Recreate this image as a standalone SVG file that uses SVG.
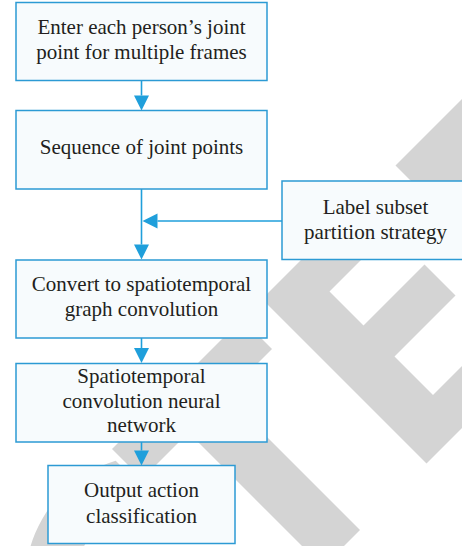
<svg xmlns="http://www.w3.org/2000/svg" width="462" height="546" viewBox="0 0 462 546">
<style>
.box{fill:#f7fbfd;stroke:#2c9ad4;stroke-width:1.5}
.lbl{font-family:'Liberation Serif','DejaVu Serif','Noto Serif','Times New Roman',Times,serif;font-size:21px;fill:#231f20;text-anchor:middle}
.con{stroke:#1f9fdb;stroke-width:1.6;fill:none}
.wm{fill:#d4d4d4}
</style>
<defs>
<marker id="ah" markerUnits="userSpaceOnUse" markerWidth="16" markerHeight="16" refX="0" refY="7.5" orient="auto" overflow="visible">
<path d="M0,0 L15,7.5 L0,15 Z" fill="#1f9fdb"/>
</marker>
</defs>
<rect width="462" height="546" fill="#ffffff"/>
<g id="watermark" class="wm" transform="matrix(0.5,-0.5,0.5,0.5,0,0)">
<path d="M-345,576.4 A175,170 0 1 0 -345,873.6 L-345,777.7 A100,100 0 1 1 -345,672.3 Z"/>
<path d="M-337,561 H-77 V621 H-170 V890 H-244 V621 H-337 Z"/>
<path d="M-37,561 H175 V621 H38 V689 H160 V751 H38 V828 H175 V890 H-37 Z"/>
<path fill-rule="evenodd" d="M230,561 H370 C470,561 520,640 520,725 C520,815 470,890 370,890 H230 Z M305,621 H360 C420,621 445,670 445,725 C445,780 420,828 360,828 H305 Z"/>
</g>
<g id="connectors">
<line class="con" x1="141.5" y1="80.5" x2="141.5" y2="95.5" marker-end="url(#ah)"/>
<line class="con" x1="141.5" y1="189" x2="141.5" y2="244.5" marker-end="url(#ah)"/>
<line class="con" x1="282" y1="221" x2="157.5" y2="221" marker-end="url(#ah)"/>
<line class="con" x1="141.5" y1="338" x2="141.5" y2="348" marker-end="url(#ah)"/>
<line class="con" x1="141.5" y1="442" x2="141.5" y2="450.5" marker-end="url(#ah)"/>
</g>
<g id="n1">
<rect class="box" x="16" y="2.5" width="251" height="78"/>
<text class="lbl" x="141.5" y="34">Enter each person’s joint</text>
<text class="lbl" x="141.5" y="58.5">point for multiple frames</text>
</g>
<g id="n2">
<rect class="box" x="16" y="110.5" width="251" height="78.5"/>
<text class="lbl" x="141.5" y="154">Sequence of joint points</text>
</g>
<g id="n3">
<rect class="box" x="282" y="181" width="190" height="78.5"/>
<text class="lbl" x="375.5" y="213.5">Label subset</text>
<text class="lbl" x="375.5" y="238.5">partition strategy</text>
</g>
<g id="n4">
<rect class="box" x="16" y="260" width="251" height="78"/>
<text class="lbl" x="141.5" y="291">Convert to spatiotemporal</text>
<text class="lbl" x="141.5" y="316">graph convolution</text>
</g>
<g id="n5">
<rect class="box" x="16" y="363.5" width="251" height="78.5"/>
<text class="lbl" x="141.5" y="382.5">Spatiotemporal</text>
<text class="lbl" x="141.5" y="407.5">convolution neural</text>
<text class="lbl" x="141.5" y="432">network</text>
</g>
<g id="n6">
<rect class="box" x="48" y="465.5" width="187" height="78"/>
<text class="lbl" x="141.5" y="497">Output action</text>
<text class="lbl" x="141.5" y="522.5">classification</text>
</g>
</svg>
